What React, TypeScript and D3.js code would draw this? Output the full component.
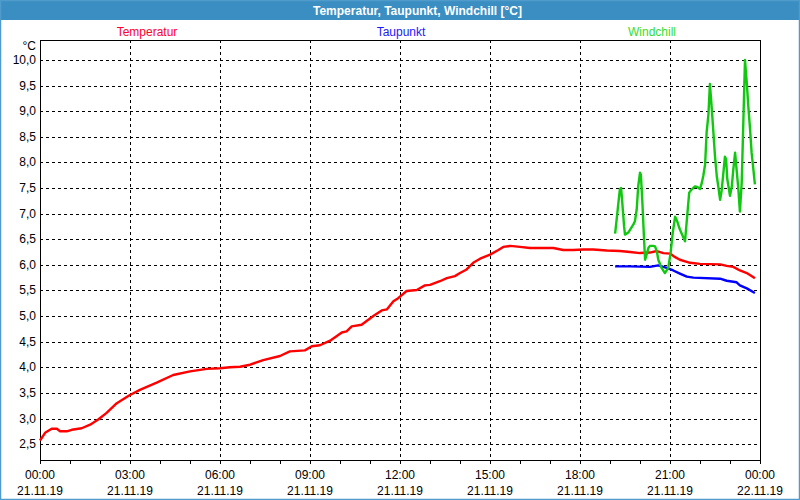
import React, { useRef, useEffect } from 'react';
import * as d3 from 'd3';

// hours since 21.11.19 00:00, value in °C
const tempHours = [0, 0.17, 0.39, 0.56, 0.67, 0.89, 1.06, 1.39, 1.67, 1.94, 2.22, 2.56, 2.89, 3.0, 3.33, 3.89, 4.44, 5.0, 5.56, 6.0, 6.33, 6.67, 7.0, 7.44, 8.0, 8.33, 8.83, 9.06, 9.33, 9.67, 10.06, 10.22, 10.39, 10.72, 11.11, 11.39, 11.56, 11.78, 11.94, 12.22, 12.56, 12.83, 13.0, 13.33, 13.56, 13.83, 14.0, 14.22, 14.44, 14.67, 15.0, 15.28, 15.44, 15.67, 16.0, 16.33, 17.11, 17.44, 17.78, 18.11, 18.44, 18.89, 19.33, 19.67, 20.0, 20.33, 20.56, 20.78, 21.0, 21.17, 21.33, 21.56, 21.67, 22.0, 22.67, 22.89, 23.11, 23.33, 23.56, 23.78, 23.83];
const tempValues = [2.57, 2.72, 2.8, 2.8, 2.75, 2.75, 2.78, 2.81, 2.88, 2.98, 3.11, 3.3, 3.42, 3.46, 3.56, 3.7, 3.85, 3.92, 3.97, 3.98, 4.0, 4.01, 4.05, 4.14, 4.22, 4.31, 4.33, 4.41, 4.43, 4.52, 4.68, 4.7, 4.8, 4.83, 5.0, 5.11, 5.13, 5.29, 5.35, 5.49, 5.51, 5.6, 5.61, 5.68, 5.74, 5.78, 5.84, 5.91, 6.04, 6.12, 6.2, 6.29, 6.35, 6.37, 6.35, 6.33, 6.33, 6.29, 6.29, 6.3, 6.3, 6.28, 6.27, 6.25, 6.23, 6.24, 6.27, 6.23, 6.22, 6.15, 6.1, 6.06, 6.04, 6.02, 6.01, 5.98, 5.96, 5.89, 5.84, 5.76, 5.74];

const dewHours = [19.17, 19.67, 20.33, 20.61, 20.89, 21.11, 21.33, 21.56, 21.78, 22.67, 22.89, 23.22, 23.33, 23.56, 23.83];
const dewValues = [5.97, 5.97, 5.96, 5.99, 5.94, 5.89, 5.83, 5.77, 5.75, 5.73, 5.69, 5.66, 5.6, 5.54, 5.45];

const chillHours = [19.17, 19.22, 19.28, 19.33, 19.37, 19.41, 19.47, 19.5, 19.61, 19.78, 19.83, 19.89, 19.94, 20.0, 20.03, 20.08, 20.13, 20.17, 20.22, 20.28, 20.33, 20.44, 20.5, 20.56, 20.61, 20.72, 20.83, 20.94, 21.02, 21.09, 21.17, 21.24, 21.33, 21.5, 21.58, 21.64, 21.72, 21.83, 21.91, 22.0, 22.06, 22.11, 22.17, 22.22, 22.28, 22.33, 22.37, 22.41, 22.44, 22.5, 22.56, 22.61, 22.67, 22.72, 22.78, 22.83, 22.87, 22.91, 23.0, 23.06, 23.11, 23.17, 23.22, 23.28, 23.33, 23.39, 23.42, 23.47, 23.5, 23.56, 23.61, 23.67, 23.72, 23.78, 23.83];
const chillValues = [6.61, 6.88, 7.21, 7.48, 7.5, 7.21, 6.75, 6.59, 6.63, 6.79, 6.85, 7.08, 7.53, 7.8, 7.76, 7.21, 6.56, 6.1, 6.2, 6.33, 6.37, 6.37, 6.36, 6.27, 6.1, 5.94, 5.84, 5.94, 6.23, 6.62, 6.94, 6.85, 6.69, 6.46, 7.0, 7.41, 7.47, 7.53, 7.52, 7.48, 7.6, 7.74, 7.96, 8.58, 8.93, 9.53, 9.23, 8.9, 8.64, 8.12, 7.73, 7.53, 7.27, 7.44, 7.8, 8.11, 8.06, 7.67, 7.35, 7.53, 7.86, 8.19, 7.86, 7.47, 7.04, 7.6, 8.25, 9.36, 10.0, 9.55, 9.1, 8.64, 8.19, 7.86, 7.57];

const yTicks = [2.5, 3.0, 3.5, 4.0, 4.5, 5.0, 5.5, 6.0, 6.5, 7.0, 7.5, 8.0, 8.5, 9.0, 9.5, 10.0];
const xTicks = [0, 3, 6, 9, 12, 15, 18, 21, 24];
const timeLabels = ['00:00', '03:00', '06:00', '09:00', '12:00', '15:00', '18:00', '21:00', '00:00'];
const dateLabels = ['21.11.19', '21.11.19', '21.11.19', '21.11.19', '21.11.19', '21.11.19', '21.11.19', '21.11.19', '22.11.19'];
const hourTicks = d3.range(0, 25);

const seriesNames = ['Temperatur', 'Taupunkt', 'Windchill'];
const seriesColors = ['#ff0000', '#0000ff', '#11c811'];
const legendColors = ['#ff0033', '#1a1aff', '#33dd33'];

const App = () => {
    const svgRef = useRef(null);
    const width = 800;
    const height = 500;

    useEffect(() => {
        const svg = d3.select(svgRef.current);
        svg.selectAll('*').remove();

        const left = 40, right = 760, top = 40, bottom = 460;
        const font = '"Liberation Sans", Arial, sans-serif';
        const fs = '12px';

        const xScale = d3.scaleLinear().domain([0, 24]).range([left, right]);
        const yScale = d3.scaleLinear().domain([2.19, 10.39]).range([bottom, top]);

        // background + window frame
        svg.append('rect').attr('width', width).attr('height', height).attr('fill', '#ffffff');
        svg.append('rect').attr('width', width).attr('height', 20).attr('fill', '#3b8ec2');
        svg.append('rect')
            .attr('x', 0.5).attr('y', 0.5)
            .attr('width', width - 1).attr('height', height - 1)
            .attr('fill', 'none').attr('stroke', '#4f9bcb').attr('stroke-width', 1.5);

        svg.append('text')
            .attr('x', 313).attr('y', 15)
            .attr('fill', '#ffffff')
            .style('font-family', font).style('font-size', '12px').style('font-weight', 'bold')
            .attr('textLength', 209).attr('lengthAdjust', 'spacingAndGlyphs')
            .text('Temperatur, Taupunkt, Windchill [°C]');

        // legend
        const legendX = [147, 401, 652];
        seriesNames.forEach((name, i) => {
            svg.append('text')
                .attr('x', legendX[i]).attr('y', 36)
                .attr('text-anchor', 'middle')
                .attr('fill', legendColors[i])
                .style('font-family', font).style('font-size', fs)
                .text(name);
        });

        // grid
        const grid = svg.append('g').attr('shape-rendering', 'crispEdges');
        grid.selectAll('.gy')
            .data(yTicks)
            .join('line')
            .attr('x1', left).attr('x2', right)
            .attr('y1', d => Math.round(yScale(d)) + 0.5).attr('y2', d => Math.round(yScale(d)) + 0.5)
            .attr('stroke', '#000').attr('stroke-dasharray', '3,3');
        grid.selectAll('.gx')
            .data(xTicks.slice(1, -1))
            .join('line')
            .attr('x1', d => xScale(d) + 0.5).attr('x2', d => xScale(d) + 0.5)
            .attr('y1', top).attr('y2', bottom)
            .attr('stroke', '#000').attr('stroke-dasharray', '3,3');

        // hourly ticks
        grid.selectAll('.ht')
            .data(hourTicks)
            .join('line')
            .attr('x1', d => xScale(d) + 0.5).attr('x2', d => xScale(d) + 0.5)
            .attr('y1', bottom).attr('y2', bottom + 4)
            .attr('stroke', '#000');

        // frame
        svg.append('rect')
            .attr('x', left + 0.5).attr('y', top + 0.5)
            .attr('width', right - left).attr('height', bottom - top)
            .attr('fill', 'none').attr('stroke', '#000').attr('shape-rendering', 'crispEdges');

        // y labels
        svg.append('g').selectAll('text')
            .data(yTicks)
            .join('text')
            .attr('x', 36).attr('y', d => yScale(d) + 4)
            .attr('text-anchor', 'end')
            .style('font-family', font).style('font-size', fs)
            .attr('fill', '#000')
            .text(d => d.toFixed(1).replace('.', ','));
        svg.append('text')
            .attr('x', 36).attr('y', 50)
            .attr('text-anchor', 'end')
            .style('font-family', font).style('font-size', fs)
            .text('°C');

        // x labels
        const xl = svg.append('g');
        xl.selectAll('.tl')
            .data(xTicks)
            .join('text')
            .attr('x', d => xScale(d)).attr('y', 479)
            .attr('text-anchor', 'middle')
            .style('font-family', font).style('font-size', fs)
            .text((d, i) => timeLabels[i]);
        xl.selectAll('.dl')
            .data(xTicks)
            .join('text')
            .attr('class', 'dl')
            .attr('x', d => xScale(d)).attr('y', 495)
            .attr('text-anchor', 'middle')
            .style('font-family', font).style('font-size', fs)
            .text((d, i) => dateLabels[i]);

        // lines
        const lineGenerator = d3.line()
            .x(d => xScale(d[0]))
            .y(d => yScale(d[1]))
            .curve(d3.curveLinear);

        const series = [
            d3.zip(tempHours, tempValues),
            d3.zip(dewHours, dewValues),
            d3.zip(chillHours, chillValues),
        ];
        series.forEach((s, i) => {
            svg.append('path')
                .attr('d', lineGenerator(s))
                .attr('fill', 'none')
                .attr('stroke', seriesColors[i])
                .attr('stroke-width', 2.4)
                .attr('stroke-linejoin', 'round');
        });
    }, []);

    return (
        <div style={{ position: 'absolute', left: 0, top: 0 }}>
            <svg ref={svgRef} width={width} height={height} style={{ display: 'block' }} />
        </div>
    );
};

export default App;
